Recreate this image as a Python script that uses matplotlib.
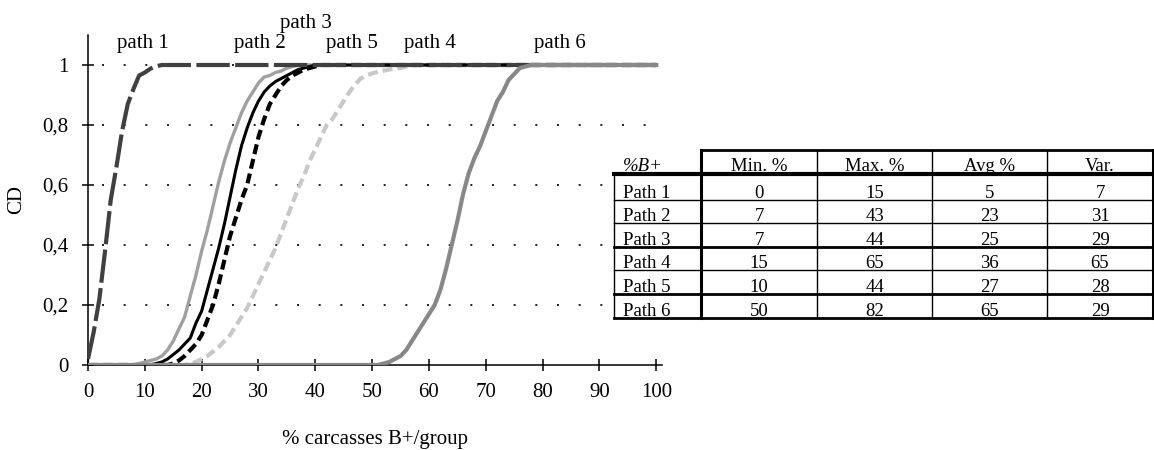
import matplotlib
matplotlib.use('Agg')
import matplotlib.pyplot as plt

plt.rcParams['font.family'] = ['Liberation Serif', 'DejaVu Serif']

# cumulative distributions
p1_x = [0, 1, 2, 3, 4, 5, 6, 7, 8, 9, 10, 11, 12, 13, 100]
p1_y = [0.02, 0.11, 0.22, 0.38, 0.55, 0.66, 0.78, 0.87, 0.92, 0.965, 0.975, 0.988, 0.996, 1, 1]

p2_x = [0, 8, 9, 10, 11, 12, 13, 14, 15, 16, 17, 18, 19, 20, 21, 22, 23, 24, 25, 26,
        27, 28, 29, 30, 31, 32, 33, 34, 35, 36, 37, 100]
p2_y = [0, 0, 0.005, 0.01, 0.015, 0.02, 0.03, 0.05, 0.08, 0.12, 0.16, 0.23, 0.30, 0.38,
        0.45, 0.53, 0.61, 0.68, 0.74, 0.79, 0.84, 0.88, 0.91, 0.94, 0.96, 0.965, 0.975,
        0.98, 0.99, 0.995, 1, 1]

p3_x = [0, 11, 12, 13, 14, 15, 16, 17, 18, 19, 20, 21, 22, 23, 24, 25, 26, 27, 28, 29,
        30, 31, 32, 33, 34, 35, 36, 37, 38, 40, 100]
p3_y = [0, 0, 0.005, 0.01, 0.02, 0.035, 0.05, 0.07, 0.09, 0.14, 0.18, 0.25, 0.32, 0.39,
        0.47, 0.56, 0.65, 0.73, 0.79, 0.84, 0.88, 0.91, 0.93, 0.945, 0.955, 0.965, 0.975,
        0.985, 0.99, 1, 1]

p4_x = [0, 17, 18, 19, 20, 21, 22, 23, 24, 25, 26, 27, 28, 29, 30, 31, 32, 33, 34, 35,
        36, 37, 38, 39, 40, 41, 42, 43, 44, 45, 46, 47, 48, 49, 50, 51, 53, 55, 57, 100]
p4_y = [0, 0, 0.005, 0.01, 0.02, 0.03, 0.045, 0.06, 0.08, 0.1, 0.13, 0.16, 0.19, 0.23,
        0.27, 0.31, 0.35, 0.39, 0.44, 0.49, 0.54, 0.59, 0.63, 0.68, 0.72, 0.76, 0.8, 0.82,
        0.85, 0.88, 0.91, 0.935, 0.955, 0.965, 0.972, 0.977, 0.985, 0.99, 1, 1]

p5_x = [0, 14, 15, 16, 17, 18, 19, 20, 21, 22, 23, 24, 25, 26, 27, 28, 29, 30, 31, 32,
        33, 34, 35, 36, 37, 38, 39, 41, 100]
p5_y = [0, 0, 0.005, 0.015, 0.03, 0.05, 0.07, 0.1, 0.15, 0.2, 0.27, 0.35, 0.43, 0.49,
        0.55, 0.6, 0.68, 0.76, 0.82, 0.87, 0.9, 0.93, 0.95, 0.965, 0.975, 0.985, 0.99, 1, 1]

p6_x = [0, 51, 52, 53, 54, 55, 56, 57, 58, 59, 60, 61, 62, 63, 64, 65, 66, 67, 68, 69,
        70, 71, 72, 73, 74, 75, 76, 77, 78, 100]
p6_y = [0, 0, 0.005, 0.01, 0.02, 0.03, 0.05, 0.08, 0.11, 0.14, 0.17, 0.2, 0.25, 0.32,
        0.4, 0.48, 0.57, 0.64, 0.69, 0.73, 0.78, 0.83, 0.88, 0.91, 0.95, 0.97, 0.99,
        0.995, 1, 1]

path_names = ['path 1', 'path 2', 'path 3', 'path 5', 'path 4', 'path 6']
name_x = [9.6, 30.2, 38.4, 46.5, 60.2, 83]
name_y = [1.073, 1.073, 1.14, 1.073, 1.073, 1.073]

tab_cols = ['%B+', 'Min. %', 'Max. %', 'Avg %', 'Var.']
tab_rows = ['Path 1', 'Path 2', 'Path 3', 'Path 4', 'Path 5', 'Path 6']
tab_min = [0, 7, 7, 15, 10, 50]
tab_max = [15, 43, 44, 65, 44, 82]
tab_avg = [5, 23, 25, 36, 27, 65]
tab_var = [7, 31, 29, 65, 28, 29]

W, H = 1154, 450
FS = 15
fig = plt.figure(figsize=(W / 100, H / 100), dpi=100)
ax = fig.add_axes([88 / W, 1 - 365 / H, 574 / W, 330 / H])

ax.plot(p4_x, p4_y, color='#c8c8c8', lw=3, ls=(0, (2.4, 1.2)), zorder=2)
ax.plot(p5_x, p5_y, color='black', lw=3, ls=(0, (2.4, 1.2)), zorder=3)
ax.plot(p2_x, p2_y, color='#a0a0a0', lw=2.4, zorder=4)
ax.plot(p3_x, p3_y, color='black', lw=2.2, zorder=5)
ax.plot(p1_x, p1_y, color='#404040', lw=3, ls=(0, (8, 1.3)), zorder=6)
ax.plot(p6_x, p6_y, color='#888888', lw=3, zorder=7)

ax.set_xlim(0, 101)
ax.set_ylim(0, 1.1)
ax.set_xticks(range(0, 101, 10))
ax.set_yticks([0, 0.2, 0.4, 0.6, 0.8, 1])
ax.set_yticklabels(['0', '0,2', '0,4', '0,6', '0,8', '1'])
ax.tick_params(direction='inout', length=8, width=1.1, labelsize=FS)
ax.tick_params(axis='x', pad=9)
ax.tick_params(axis='y', pad=10)
for s in ['top', 'right']:
    ax.spines[s].set_visible(False)
for s in ['left', 'bottom']:
    ax.spines[s].set_linewidth(1.1)
for yv in [0.2, 0.4, 0.6, 0.8, 1]:
    ax.axhline(yv, xmin=0.025, color='black', lw=1.2, ls=(0, (1.2, 11.8)), zorder=1)

ax.set_xlabel('% carcasses B+/group', fontsize=FS, labelpad=20)
ax.set_ylabel('CD', fontsize=FS, labelpad=12)

for name, nx, ny in zip(path_names, name_x, name_y):
    ax.text(nx, ny, name, ha='center', va='center', fontsize=FS, clip_on=False)

# table, drawn in pixel coordinates of its own axes
x0, x1, y0, y1 = 612, 1154, 147, 321
tax = fig.add_axes([x0 / W, 1 - y1 / H, (x1 - x0) / W, (y1 - y0) / H], zorder=10)
tax.set_xlim(x0, x1)
tax.set_ylim(y1, y0)
tax.axis('off')
tax.add_patch(plt.Rectangle((614, 150), 540, 168, color='white', zorder=0))

col_edges = [614, 701, 817, 932, 1047, 1153]
row_edges = [150, 174, 200, 223, 247, 270, 294, 318]

tax.plot([701, 1154], [150, 150], color='black', lw=2)
tax.plot([614, 1154], [174, 174], color='black', lw=3)
for yv in row_edges[2:]:
    thick = yv in (247, 294, 318)
    tax.plot([614, 1154], [yv, yv], color='black', lw=2 if thick else 1)
tax.plot([614, 614], [174, 318], color='black', lw=1)
tax.plot([701, 701], [150, 318], color='black', lw=2.2)
for xv in col_edges[2:5]:
    tax.plot([xv, xv], [150, 318], color='black', lw=1)
tax.plot([1153, 1153], [150, 318], color='black', lw=2.2)

TFS = 13.5
tax.text(623, 171, tab_cols[0], fontsize=TFS, style='italic', va='baseline')
for j, c in enumerate(tab_cols[1:]):
    tax.text((col_edges[j + 1] + col_edges[j + 2]) / 2, 171, c, fontsize=TFS,
             ha='center', va='baseline')
for i, r in enumerate(tab_rows):
    yb = row_edges[i + 2] - 2
    tax.text(623, yb, r, fontsize=TFS, va='baseline')
    vals = [tab_min[i], tab_max[i], tab_avg[i], tab_var[i]]
    for j, v in enumerate(vals):
        tax.text((col_edges[j + 1] + col_edges[j + 2]) / 2, yb, str(v), fontsize=TFS,
                 ha='center', va='baseline')

fig.savefig('out.png', dpi=100)
